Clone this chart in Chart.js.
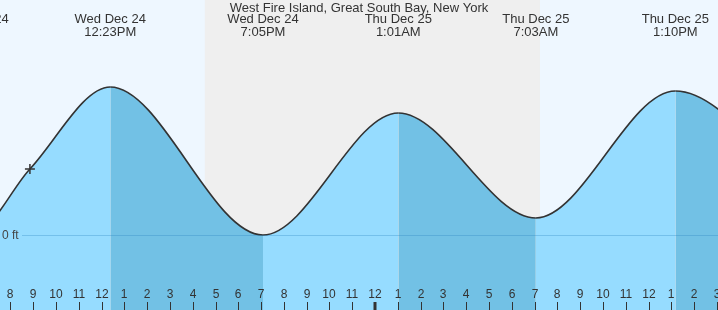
<!DOCTYPE html>
<html>
<head>
<meta charset="utf-8">
<script src="https://cdn.jsdelivr.net/npm/chart.js@4"></script>
<style>
  html, body { margin: 0; padding: 0; background: #fff; }
  #wrap { width: 718px; height: 310px; }
</style>
</head>
<body>
<div id="wrap"><canvas id="tideChart" width="718" height="310"></canvas></div>
<script>
// hours counted from midnight, Wed Dec 24
const tideHours = [0.15, 6.37, 8.86, 12.383, 19.083, 25.017, 31.05, 37.167, 43.8];
const tideFeet = [1.35, 0.02, 0.66, 1.48, 0.0, 1.22, 0.17, 1.44, 0.12];

const extremeHours = [6.37, 12.383, 19.083, 25.017, 31.05, 37.167];
const extremeDays = ['Wed Dec 24', 'Wed Dec 24', 'Wed Dec 24', 'Thu Dec 25', 'Thu Dec 25', 'Thu Dec 25'];
const extremeTimes = ['6:22AM', '12:23PM', '7:05PM', '1:01AM', '7:03AM', '1:10PM'];

const nowHour = [8.86];
const nowFeet = [0.66];

const sunsetHour = 16.53;
const sunriseHour = 31.23;

const tickHours = [8, 9, 10, 11, 12, 13, 14, 15, 16, 17, 18, 19, 20, 21, 22, 23, 24,
    25, 26, 27, 28, 29, 30, 31, 32, 33, 34, 35, 36, 37, 38, 39];
const tickLabels = ['8', '9', '10', '11', '12', '1', '2', '3', '4', '5', '6', '7', '8', '9', '10', '11', '12',
    '1', '2', '3', '4', '5', '6', '7', '8', '9', '10', '11', '12', '1', '2', '3'];

const title = 'West Fire Island, Great South Bay, New York';

const FONT = '"Liberation Sans", Arial, sans-serif';
const TEXT = '#333';

const backdrop = {
    id: 'backdrop',
    beforeDatasetsDraw(chart) {
        const {ctx, chartArea: a, scales: {x}} = chart;
        ctx.save();
        ctx.fillStyle = '#eef7ff';
        ctx.fillRect(a.left, a.top, a.right - a.left, a.bottom - a.top);
        const x0 = x.getPixelForValue(sunsetHour);
        const x1 = x.getPixelForValue(sunriseHour);
        ctx.fillStyle = '#efefef';
        ctx.fillRect(x0, a.top, x1 - x0, a.bottom - a.top);
        ctx.restore();
    }
};

const overlay = {
    id: 'overlay',
    afterDatasetsDraw(chart) {
        const {ctx, chartArea: a, scales: {x, y}} = chart;
        ctx.save();

        // zero line
        const y0 = Math.round(y.getPixelForValue(0)) + 0.5;
        ctx.strokeStyle = 'rgba(40,130,190,0.3)';
        ctx.lineWidth = 1;
        ctx.beginPath();
        ctx.moveTo(22, y0);
        ctx.lineTo(a.right, y0);
        ctx.stroke();
        ctx.fillStyle = '#444';
        ctx.font = '12px ' + FONT;
        ctx.textAlign = 'left';
        ctx.textBaseline = 'middle';
        ctx.fillText('0 ft', 2, y0);

        // hour ticks
        ctx.textAlign = 'center';
        ctx.fillStyle = TEXT;
        ctx.strokeStyle = TEXT;
        tickHours.forEach((h, i) => {
            const px = Math.round(x.getPixelForValue(h));
            ctx.fillText(tickLabels[i], px, 295);
            ctx.lineWidth = h === 24 ? 3 : 1;
            ctx.beginPath();
            ctx.moveTo(px + (h === 24 ? 0 : 0.5), 302);
            ctx.lineTo(px + (h === 24 ? 0 : 0.5), a.bottom);
            ctx.stroke();
        });

        // high / low labels
        ctx.font = '13px ' + FONT;
        extremeHours.forEach((h, i) => {
            const px = x.getPixelForValue(h);
            ctx.fillText(extremeDays[i], px, 19);
            ctx.fillText(extremeTimes[i], px, 32);
        });
        ctx.fillText(title, a.left + (a.right - a.left) / 2, 8);
        ctx.restore();
    }
};

new Chart(document.getElementById('tideChart'), {
    type: 'line',
    data: {
        datasets: [{
            label: 'now',
            data: nowHour.map((h, i) => ({x: h, y: nowFeet[i]})),
            showLine: false,
            pointStyle: 'cross',
            pointRadius: 5,
            borderColor: '#333',
            borderWidth: 1.5,
            fill: false,
        }, {
            label: 'Tide',
            data: tideHours.map((h, i) => ({x: h, y: tideFeet[i]})),
            borderColor: '#333',
            borderWidth: 1.6,
            backgroundColor: '#96dcff',
            pointRadius: 0,
            fill: 'start',
            cubicInterpolationMode: 'monotone',
            segment: {
                backgroundColor: c => c.p1.parsed.y < c.p0.parsed.y ? '#72c1e5' : '#96dcff'
            }
        }]
    },
    options: {
        responsive: false,
        animation: false,
        events: [],
        layout: { padding: 0, autoPadding: false },
        plugins: { legend: { display: false }, tooltip: { enabled: false } },
        scales: {
            x: { type: 'linear', min: 7.548, max: 39.04, display: false },
            y: { min: -0.75, max: 2.35, display: false }
        }
    },
    plugins: [backdrop, overlay]
});
</script>
</body>
</html>
